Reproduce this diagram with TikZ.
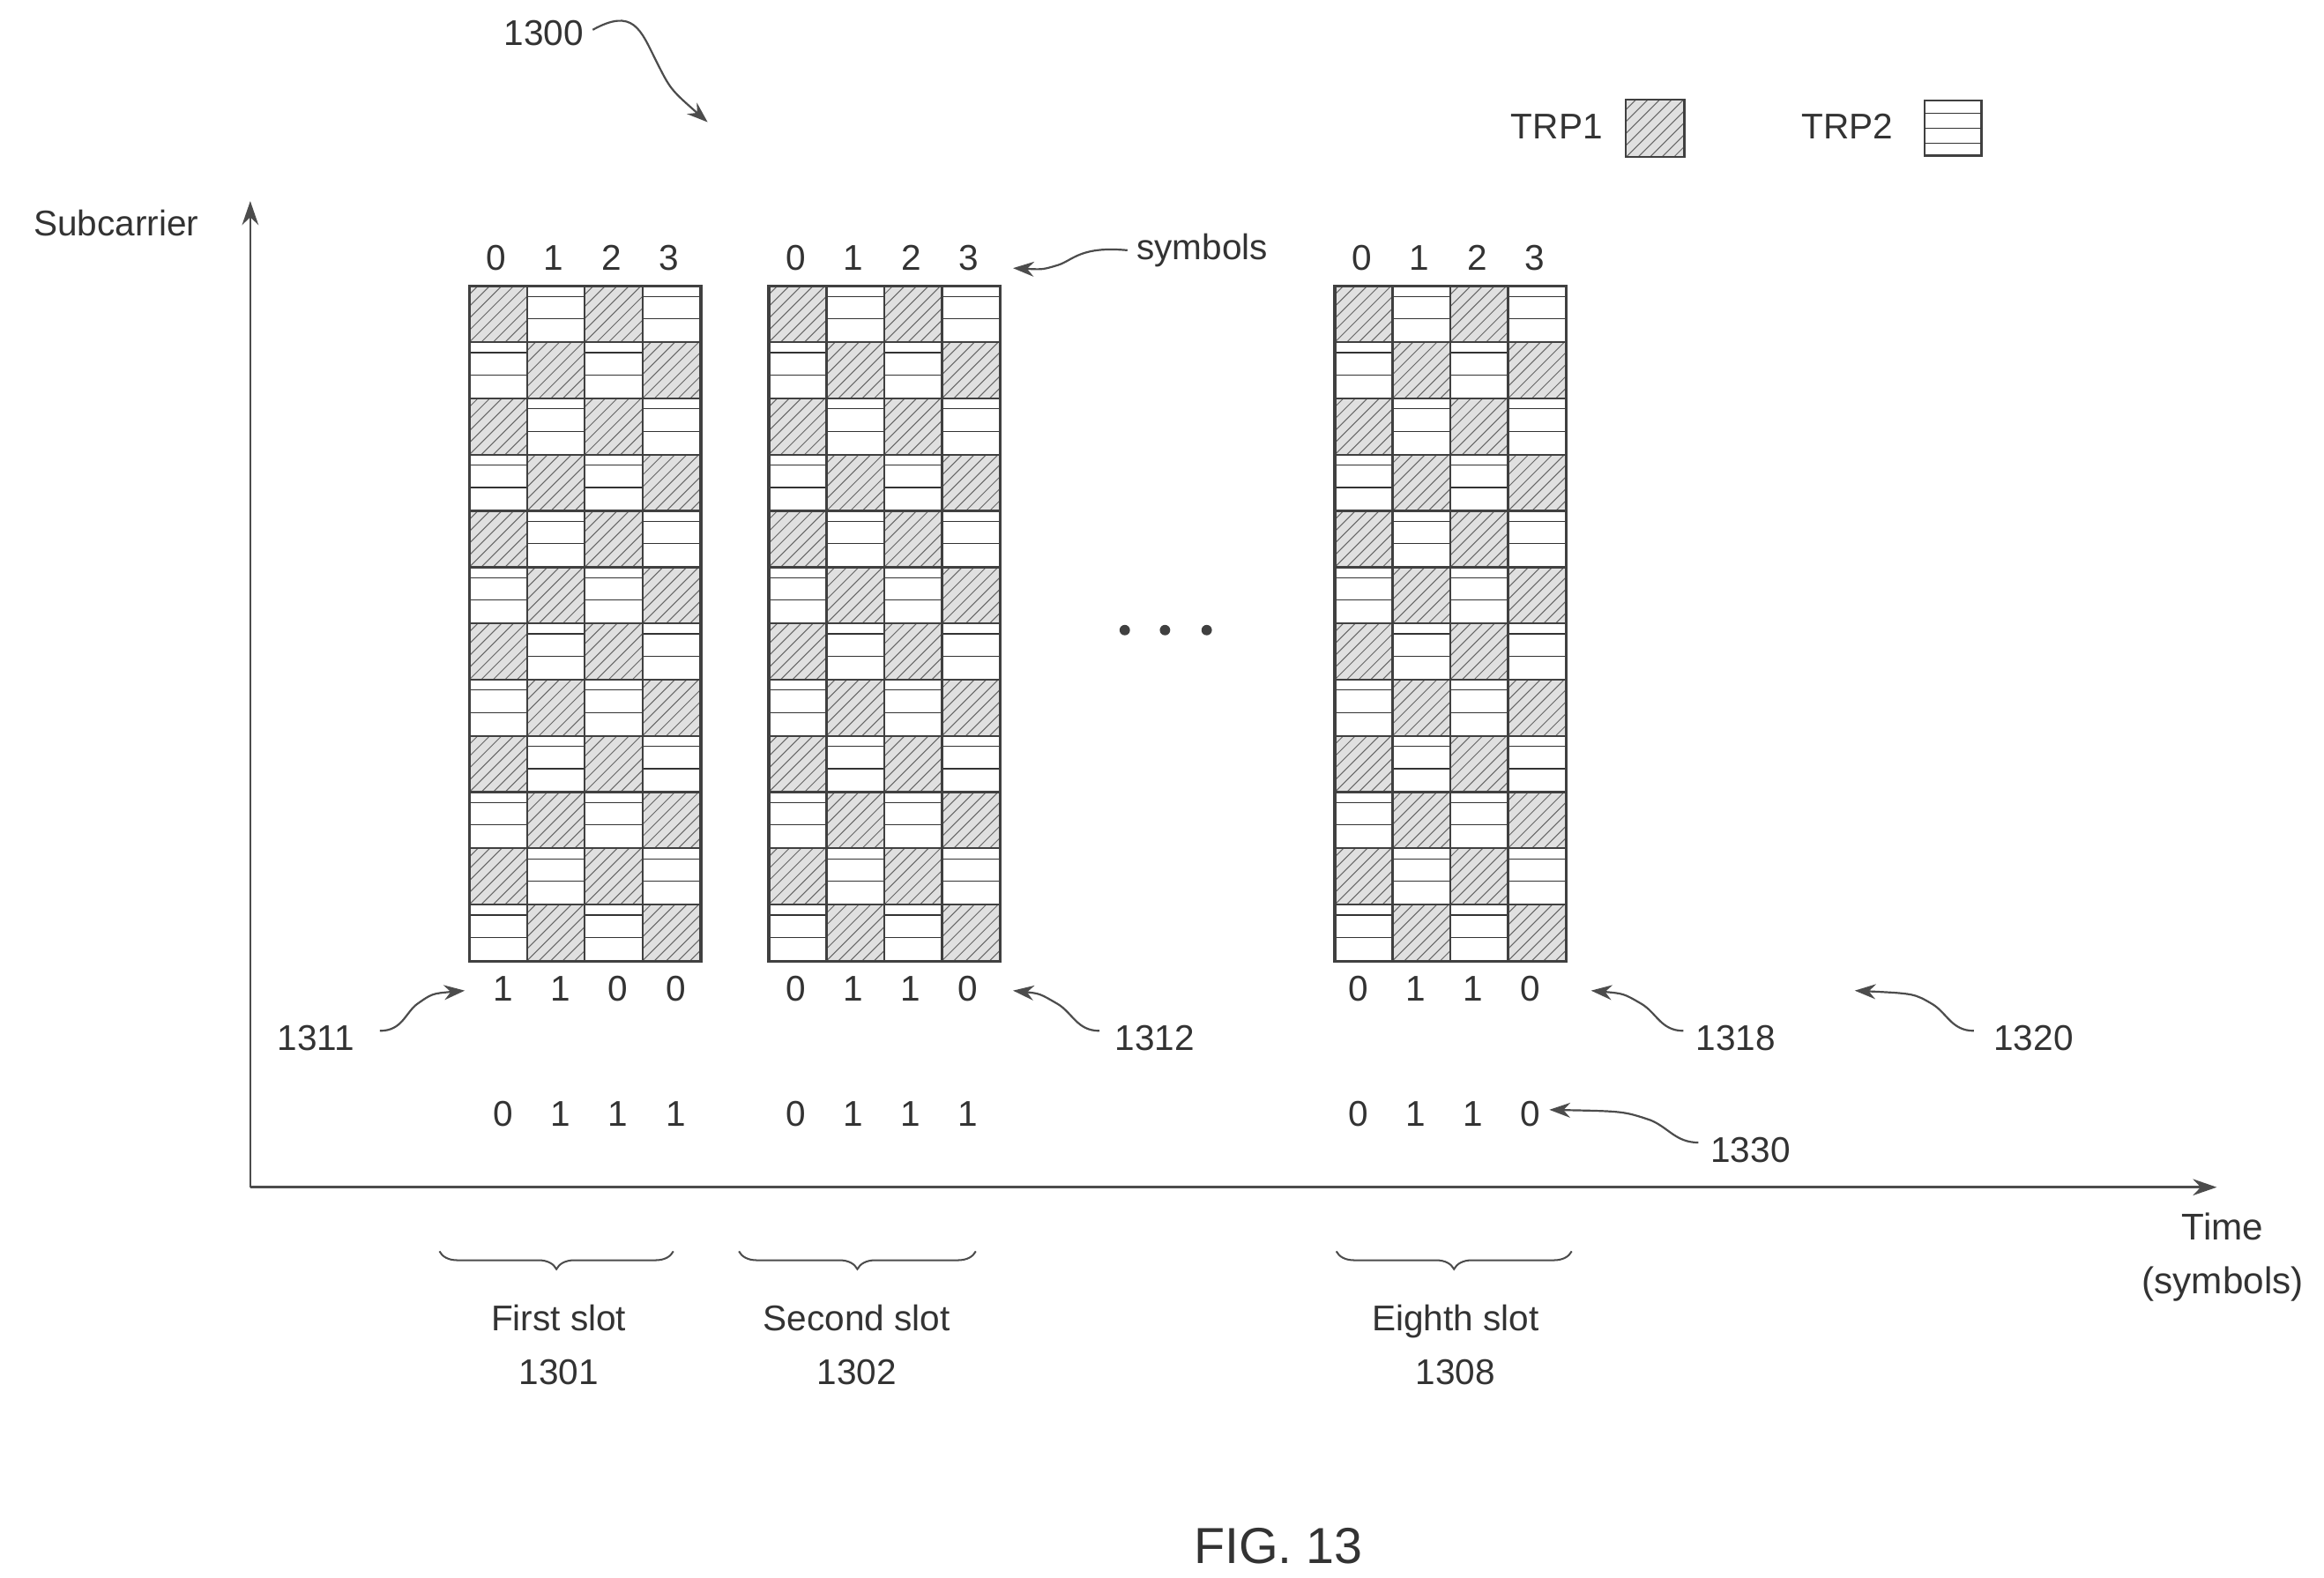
\documentclass[tikz,border=0pt]{standalone}
\usepackage{fontspec}
\setmainfont{Liberation Sans}
\usetikzlibrary{arrows.meta,decorations.pathreplacing}
\begin{document}
\begin{tikzpicture}[x=1pt,y=-1pt,
  txt/.style={font=\fontsize{24}{28}\selectfont, text=black!80, inner sep=0pt},
  ax/.style={line width=1.6pt, black!70, -{Stealth[length=16pt,width=11pt]}},
  sq/.style={line width=1.3pt, black!70, -{Stealth[length=14pt,width=10pt]}},
  cellb/.style={line width=1.4pt, black!75},
  hatch/.style={line width=0.6pt, black!60},
  hl/.style={line width=0.7pt, black!80},
  br/.style={decorate, decoration={brace, amplitude=12pt}, line width=1.2pt, black!70}]
\useasboundingbox (0,0) rectangle (1560,1059);
\fill[white] (0,0) rectangle (1560,1059);
\foreach \gx/\gn in {315/ga,516/gb,896/gc}{
  \foreach \i in {0,...,11}{
    \foreach \j in {0,...,3}{
      \pgfmathsetmacro\x{\gx+\j*38.75}
      \pgfmathsetmacro\y{192+\i*37.75}
      \pgfmathtruncatemacro\p{mod(\i+\j,2)}
      \ifnum\p=0
        \fill[black!12] (\x,\y) rectangle ++(38.75,37.75);
        \begin{scope}
          \clip (\x,\y) rectangle ++(38.75,37.75);
          \foreach \k in {-40,-32,...,40}
            \draw[hatch] (\x+\k,\y+37.75) -- ++(40,-40);
        \end{scope}
      \else
        \draw[hl] (\x,\y+7) -- ++(38.75,0);
        \draw[hl] (\x,\y+22) -- ++(38.75,0);
      \fi
      \draw[cellb] (\x,\y) rectangle ++(38.75,37.75);
    }
  }
  \node[draw=none, minimum width=155pt, minimum height=453pt, anchor=north west, inner sep=0pt] (\gn) at (\gx,192) {};
  \draw[line width=2pt, black!75] (\gn.north west) rectangle (\gn.south east);
  \foreach \j in {0,...,3}
    \node[txt] at (\gx+18+\j*38.75,173) {\j};
}
\coordinate (O) at (168,797);
\coordinate (Ytop) at (168,135);
\coordinate (Xend) at (1488,797);
\draw[ax] (O) -- (Ytop);
\draw[ax] (O) -- (Xend);
\node[txt] (sub) at (78,150) {Subcarrier};
\node[txt, align=center, font=\fontsize{25}{36}\selectfont] (time) at (1492,844) {Time\\(symbols)};
\node[txt] (n1300) at (365,22) {1300};
\coordinate (a1300) at (475,82);
\draw[sq] (n1300.east) ++(6,-2) .. controls (425,5) and (430,20) .. (440,40) .. controls (450,60) .. (a1300);
\node[txt] (trp1) at (1045,85) {TRP1};
\node[draw, line width=1.4pt, black!75, minimum width=38pt, minimum height=37pt, inner sep=0pt] (l1) at (1111,86) {};
\fill[black!12] (l1.south west) rectangle (l1.north east);
\begin{scope}
  \clip (l1.south west) rectangle (l1.north east);
  \foreach \k in {-40,-32,...,40}
    \draw[hatch] (1092+\k,105) -- ++(40,-40);
\end{scope}
\draw[line width=1.4pt, black!75] (l1.south west) rectangle (l1.north east);
\node[txt] (trp2) at (1240,85) {TRP2};
\node[draw, line width=1.4pt, black!75, minimum width=38pt, minimum height=37pt, inner sep=0pt] (l2) at (1311,86) {};
\foreach \yy in {76,86,96} \draw[hl] (1292,\yy) -- (1330,\yy);
\node[txt] (sym) at (807,168) {symbols};
\coordinate (asym) at (680,180);
\draw[sq] (sym.west) ++(-6,0) .. controls (725,165) and (720,175) .. (710,178) .. controls (700,181) .. (asym);
\foreach \dx in {755,782,810} \fill[black!75] (\dx,423) circle (3.5pt);
\foreach \gx/\ra/\rb in {338/{1,1,0,0}/{0,1,1,1}, 534/{0,1,1,0}/{0,1,1,1}, 912/{0,1,1,0}/{0,1,1,0}}{
  \foreach \d [count=\c from 0] in \ra \node[txt] at (\gx+\c*38.5,664) {\d};
  \foreach \d [count=\c from 0] in \rb \node[txt] at (\gx+\c*38.5,748) {\d};
}
\node[txt] (n1311) at (212,697) {1311};
\coordinate (a1311) at (312,665);
\draw[sq] (255,692) .. controls (270,692) and (272,680) .. (280,674) .. controls (290,667) .. (a1311);
\foreach \nm/\lx/\sx/\ax/\ay in {1312/775/738/680/665, 1318/1165/1130/1068/665, 1320/1365/1325/1245/665}{
  \node[txt] (n\nm) at (\lx,697) {\nm};
  \coordinate (a\nm) at (\ax,\ay);
  \draw[sq] (\sx,692) .. controls (\sx-15,692) and (\sx-18,680) .. (\sx-28,674) .. controls (\sx-40,667) .. (a\nm);
}
\node[txt] (n1330) at (1175,772) {1330};
\coordinate (a1330) at (1040,745);
\draw[sq] (1140,767) .. controls (1125,767) and (1120,757) .. (1108,752) .. controls (1090,746) .. (a1330);
\foreach \bl/\brr in {295/452, 496/655, 897/1055}
  \draw[br] (\brr,840) -- (\bl,840);
\node[txt, align=center, font=\fontsize{24}{36}\selectfont] (s1) at (375,903) {First slot\\1301};
\node[txt, align=center, font=\fontsize{24}{36}\selectfont] (s2) at (575,903) {Second slot\\1302};
\node[txt, align=center, font=\fontsize{24}{36}\selectfont] (s8) at (977,903) {Eighth slot\\1308};
\node[txt, font=\fontsize{34}{40}\selectfont] (fig) at (858,1038) {FIG. 13};
\end{tikzpicture}
\end{document}
